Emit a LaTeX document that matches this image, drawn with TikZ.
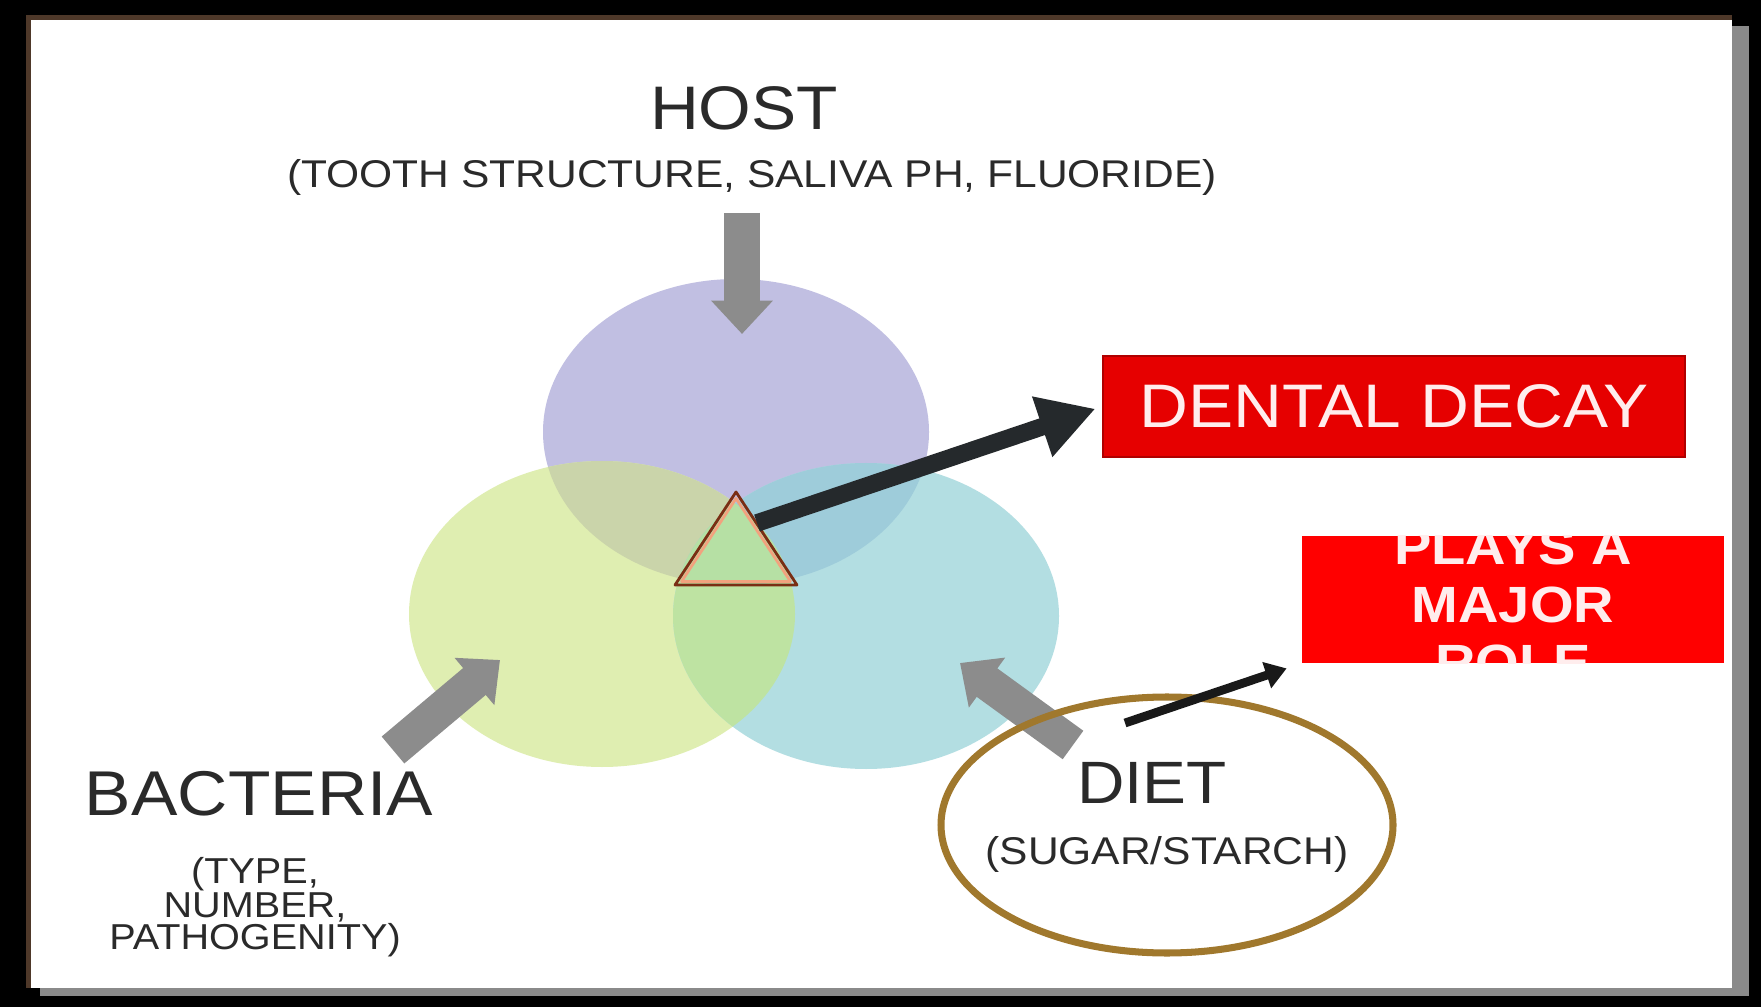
\documentclass[tikz,border=0pt]{standalone}
\usepackage{fontspec}
\setmainfont{Liberation Sans}[FakeStretch=1.1]
\usetikzlibrary{arrows.meta}

\definecolor{shadowgray}{HTML}{8A8A8A}
\definecolor{framebrown}{HTML}{4E3829}
\definecolor{hostpurple}{HTML}{C1BFE2}
\definecolor{bactgreen}{HTML}{DFEEB1}
\definecolor{dietteal}{HTML}{B3DEE2}
\definecolor{hostbact}{HTML}{CAD4AA}
\definecolor{hostdiet}{HTML}{9ECCDA}
\definecolor{bactdiet}{HTML}{BEE3A2}
\definecolor{allthree}{HTML}{B6E0A4}
\definecolor{coreedge}{HTML}{7A2E14}
\definecolor{coresalmon}{HTML}{F2A27E}
\definecolor{inkgray}{HTML}{2A2A2A}
\definecolor{arrowgray}{HTML}{8C8C8C}
\definecolor{arrowblack}{HTML}{25292C}
\definecolor{decayred}{HTML}{E60000}
\definecolor{decayedge}{HTML}{B00000}
\definecolor{decaytext}{HTML}{FFEDED}
\definecolor{ringbrown}{HTML}{A0782D}

\tikzset{
  factorname/.style={anchor=base, text=inkgray, font=\fontsize{35}{40}\selectfont},
  factornote/.style={text=inkgray, font=\fontsize{22}{26}\selectfont},
  pointer/.style={draw=arrowgray, line width=20pt,
    -{Triangle[length=19pt,width=34pt]}},
  decayarrow/.style={draw=arrowblack, line width=10pt,
    -{Triangle[length=32pt,width=34pt]}},
  playarrow/.style={draw=black!90, line width=5pt,
    -{Triangle[length=12pt,width=15pt]}},
  redbox/.style={fill=decayred, inner sep=0pt, text=decaytext},
}

\begin{document}
\begin{tikzpicture}
\useasboundingbox (0,0) rectangle (35.22,20.14);
% slide frame
\fill[black] (0,0) rectangle (35.22,20.14);
\fill[shadowgray] (0.80,0.22) rectangle (34.98,19.62);
\fill[white] (0.52,0.38) rectangle (34.64,19.84);
\draw[framebrown, line width=2.5pt] (0.57,0.38) -- (0.57,19.79) -- (34.64,19.79);

% the three factors
\fill[hostpurple] (14.72,11.50) ellipse (3.86 and 3.06);
\fill[bactgreen] (12.04,7.86) ellipse (3.86 and 3.06);
\fill[dietteal] (17.32,7.82) ellipse (3.86 and 3.06);
\begin{scope}
\clip (12.04,7.86) ellipse (3.86 and 3.06);
\fill[bactdiet] (17.32,7.82) ellipse (3.86 and 3.06);
\end{scope}
\begin{scope}
\clip (14.72,11.50) ellipse (3.86 and 3.06);
\fill[hostbact] (12.04,7.86) ellipse (3.86 and 3.06);
\fill[hostdiet] (17.32,7.82) ellipse (3.86 and 3.06);
\clip (12.04,7.86) ellipse (3.86 and 3.06);
\fill[allthree] (17.32,7.82) ellipse (3.86 and 3.06);
\end{scope}

% triangle in the middle
\draw[coreedge, line width=1.6pt, line join=round] (14.72,10.30) -- (13.50,8.44) -- (15.94,8.44) -- cycle;
\draw[coresalmon, line width=1.6pt, line join=round] (14.72,10.17) -- (13.63,8.51) -- (15.81,8.51) -- cycle;
\coordinate (core) at (15.14,9.68);

% labels
\node[factorname] (host) at (14.88,17.54) {HOST};
\node[factornote, anchor=base] (hostnote) at (15.04,16.38) {(TOOTH STRUCTURE, SALIVA PH, FLUORIDE)};

\node[factorname, font=\fontsize{36}{40}\selectfont] (bacteria) at (5.18,3.84) {BACTERIA};
\node[factornote, align=center, font=\fontsize{20.5}{16.5}\selectfont] (bacterianote) at (5.10,2.00) {(TYPE,\\NUMBER,\\PATHOGENITY)};

\node[factorname, font=\fontsize{34}{40}\selectfont] (diet) at (23.04,4.08) {DIET};
\node[factornote, anchor=base] (dietnote) at (23.34,2.86) {(SUGAR/STARCH)};

% gray arrows into the circles
\coordinate (hosttail) at (14.84,15.88);
\coordinate (hosttip) at (14.84,13.46);
\coordinate (bacttail) at (7.86,5.14);
\coordinate (bacttip) at (10.00,6.94);
\coordinate (diettail) at (21.46,5.24);
\coordinate (diettip) at (19.20,6.88);
\draw[pointer] (hosttail) -- (hosttip);
\draw[pointer] (bacttail) -- (bacttip);
\draw[pointer] (diettail) -- (diettip);

% outcome
\node[redbox, draw=decayedge, line width=1pt, minimum width=11.64cm, minimum height=2.02cm,
  font=\fontsize{35}{40}\selectfont] (decay) at (27.88,12.01) {DENTAL DECAY};
\draw[decayarrow, shorten >=4pt] (core) -- (decay.west);

% diet ring
\draw[ringbrown, line width=4pt] (23.34,3.64) ellipse (4.52 and 2.56);
\coordinate (playstart) at (22.50,5.68);

\node[redbox, fill=red, minimum width=8.44cm, minimum height=2.54cm] (role) at (30.26,8.15) {};
\begin{scope}
\clip (role.south west) rectangle (role.north east);
\node[align=center, text=decaytext, font=\bfseries\fontsize{29}{33}\selectfont] (roletext) at (30.26,8.05) {PLAYS A\\MAJOR\\ROLE};
\end{scope}
\draw[playarrow, shorten >=9pt] (playstart) -- (role.south west);
\end{tikzpicture}
\end{document}
